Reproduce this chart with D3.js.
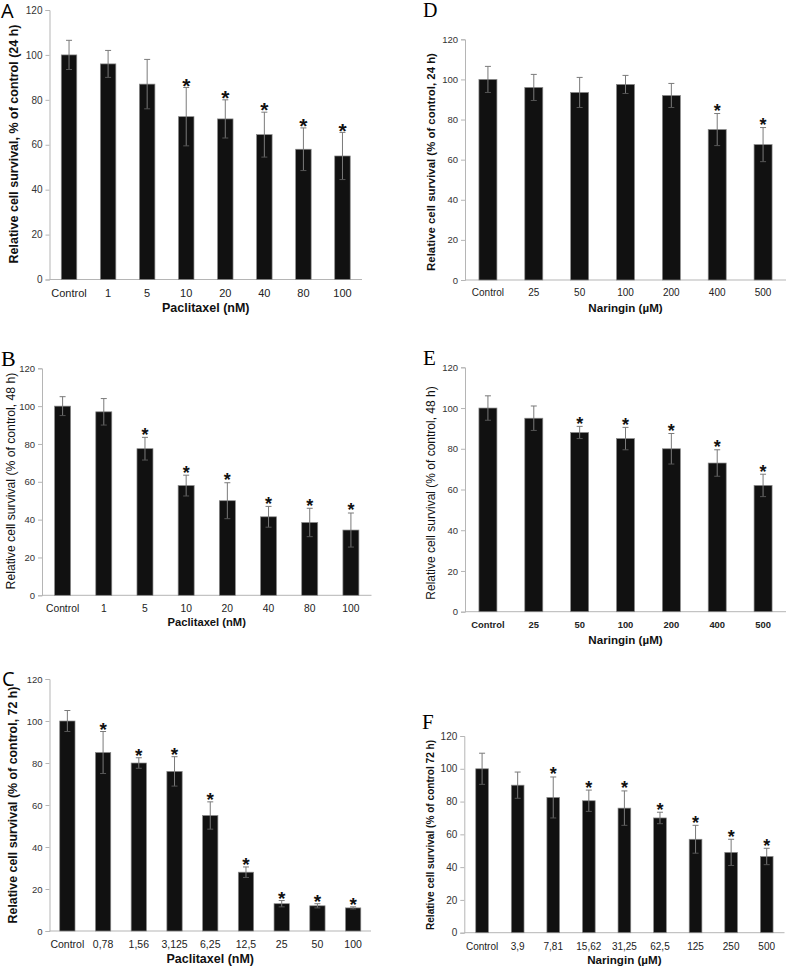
<!DOCTYPE html>
<html>
<head>
<meta charset="utf-8">
<script src="https://cdn.jsdelivr.net/npm/d3@7"></script>
<style>
  body { margin: 0; background: #fff; }
  svg { display: block; }
</style>
</head>
<body>
<div id="chart"></div>
<script>
// Panel data
const catsPac = ["Control", "1", "5", "10", "20", "40", "80", "100"];
const catsNar = ["Control", "25", "50", "100", "200", "400", "500"];
const catsC = ["Control", "0,78", "1,56", "3,125", "6,25", "12,5", "25", "50", "100"];
const catsF = ["Control", "3,9", "7,81", "15,62", "31,25", "62,5", "125", "250", "500"];
const yTicks = [0, 20, 40, 60, 80, 100, 120];

const meanA = [100, 96, 87, 72.5, 71.5, 64.5, 58, 55];
const errA = [6.5, 6, 11, 13, 8.5, 10, 9.5, 10.5];
const sigA = [0, 0, 0, 1, 1, 1, 1, 1];

const meanB = [100, 97, 77.5, 58, 50, 41.5, 38.5, 34.5];
const errB = [5, 7, 6, 5.5, 9.5, 5.5, 7.5, 9];
const sigB = [0, 0, 1, 1, 1, 1, 1, 1];

const meanC = [100, 85, 80, 76, 55, 28, 13, 12, 11];
const errC = [5, 10, 2.5, 7, 6.5, 2.5, 1.5, 1, 0.5];
const sigC = [0, 1, 1, 1, 1, 1, 1, 1, 1];

const meanD = [100, 96, 93.5, 97.5, 92, 75, 67.5];
const errD = [6.5, 6.5, 7.5, 4.5, 6, 8, 8.5];
const sigD = [0, 0, 0, 0, 0, 1, 1];

const meanE = [100, 95, 88, 85, 80, 73, 62];
const errE = [6, 6, 3, 5.5, 7.5, 6.5, 5.5];
const sigE = [0, 0, 1, 1, 1, 1, 1];

const meanF = [100, 90, 82.5, 80.5, 76, 70, 57, 49, 46.5];
const errF = [9.5, 8, 12.5, 6.5, 10.5, 3.5, 8.5, 8, 5];
const sigF = [0, 0, 1, 1, 1, 1, 1, 1, 1];

const SANS = "'Liberation Sans', Arial, sans-serif";
const SERIF = "'Liberation Serif', 'Times New Roman', serif";
const OPEN = "'Open Sans', sans-serif";

// layout for each panel
const panels = [
    { letter: "A", letterFont: OPEN, letterSize: 20, lx: 1, ly: 18,
      cats: catsPac, mean: meanA, err: errA, sig: sigA,
      x0: 49.5, x1: 362, yTop: 10, yBot: 279.5, barW: 15.5,
      tickSize: 11, tickWeight: "normal", tickY: 297, yTickSize: 10,
      title: "Paclitaxel (nM)", titleSize: 12.5, titleWeight: "bold", titleY: 312,
      ylab: "Relative cell survival, % of control (24 h)", ylabSize: 12.5, ylabWeight: "bold", ylabX: 18, ylabY: 144,
      starSize: 21 },
    { letter: "D", letterFont: SERIF, letterSize: 20, lx: 423, ly: 17,
      cats: catsNar, mean: meanD, err: errD, sig: sigD,
      x0: 465, x1: 786, yTop: 39.3, yBot: 280, barW: 18,
      tickSize: 10, tickWeight: "normal", tickY: 296, yTickSize: 9.5,
      title: "Naringin (µM)", titleSize: 11.6, titleWeight: "bold", titleY: 312,
      ylab: "Relative cell survival (% of control, 24 h)", ylabSize: 11.4, ylabWeight: "bold", ylabX: 435, ylabY: 162,
      starSize: 18 },
    { letter: "B", letterFont: SERIF, letterSize: 22, lx: 1, ly: 366,
      cats: catsPac, mean: meanB, err: errB, sig: sigB,
      x0: 42, x1: 371.5, yTop: 368.3, yBot: 595.3, barW: 16,
      tickSize: 10.3, tickWeight: "normal", tickY: 612, yTickSize: 9.5,
      title: "Paclitaxel (nM)", titleSize: 11.2, titleWeight: "bold", titleY: 626,
      ylab: "Relative cell survival (% of control, 48 h)", ylabSize: 12.2, ylabWeight: "normal", ylabX: 15, ylabY: 481,
      starSize: 18 },
    { letter: "E", letterFont: SERIF, letterSize: 21, lx: 423, ly: 365,
      cats: catsNar, mean: meanE, err: errE, sig: sigE,
      x0: 465, x1: 786, yTop: 367.3, yBot: 611.7, barW: 18,
      tickSize: 9.4, tickWeight: "bold", tickY: 628, yTickSize: 9.5,
      title: "Naringin (µM)", titleSize: 11.6, titleWeight: "bold", titleY: 644,
      ylab: "Relative cell survival  (% of control, 48 h)", ylabSize: 12, ylabWeight: "normal", ylabX: 435, ylabY: 493,
      starSize: 18 },
    { letter: "C", letterFont: OPEN, letterSize: 20, lx: 2, ly: 686,
      cats: catsC, mean: meanC, err: errC, sig: sigC,
      x0: 49.5, x1: 371, yTop: 679, yBot: 931, barW: 15.3,
      tickSize: 10.5, tickWeight: "normal", tickY: 948, yTickSize: 9.5,
      title: "Paclitaxel (nM)", titleSize: 12.5, titleWeight: "bold", titleY: 963,
      ylab: "Relative cell survival (% of control, 72 h)", ylabSize: 12.4, ylabWeight: "bold", ylabX: 17, ylabY: 805,
      starSize: 19 },
    { letter: "F", letterFont: SERIF, letterSize: 21, lx: 422, ly: 729,
      cats: catsF, mean: meanF, err: errF, sig: sigF,
      x0: 464.3, x1: 784.5, yTop: 736, yBot: 932.7, barW: 12.7,
      tickSize: 10, tickWeight: "normal", tickY: 950, yTickSize: 10,
      title: "Naringin (µM)", titleSize: 11.6, titleWeight: "bold", titleY: 964,
      ylab: "Relative cell survival (% of control 72 h)", ylabSize: 10.1, ylabWeight: "bold", ylabX: 434, ylabY: 835,
      starSize: 18 }
];

const svg = d3.select("#chart")
    .append("svg")
    .attr("width", 787)
    .attr("height", 968);

function drawPanel(p) {
    const g = svg.append("g");

    const x = d3.scaleBand()
        .domain(p.cats)
        .range([p.x0, p.x1]);

    const y = d3.scaleLinear()
        .domain([0, 120])
        .range([p.yBot, p.yTop]);

    const rows = p.cats.map((c, i) => ({ cat: c, mean: p.mean[i], err: p.err[i], sig: p.sig[i] }));

    // y axis with outward ticks
    const yAxis = d3.axisLeft(y).tickValues(yTicks).tickSize(4).tickPadding(3);
    const ya = g.append("g")
        .attr("transform", `translate(${p.x0},0)`)
        .call(yAxis);
    ya.select(".domain").attr("stroke", "#b5b5b5");
    ya.selectAll(".tick line").attr("stroke", "#b5b5b5");
    ya.selectAll(".tick text")
        .attr("font-family", SANS)
        .attr("font-size", p.yTickSize)
        .attr("fill", "#333");

    // x axis baseline
    g.append("line")
        .attr("x1", p.x0).attr("x2", p.x1)
        .attr("y1", y(0)).attr("y2", y(0))
        .attr("stroke", "#b5b5b5");

    // bars
    g.selectAll("rect.bar")
        .data(rows)
        .enter().append("rect")
        .attr("class", "bar")
        .attr("x", d => x(d.cat) + (x.bandwidth() - p.barW) / 2)
        .attr("width", p.barW)
        .attr("y", d => y(d.mean))
        .attr("height", d => y(0) - y(d.mean))
        .attr("fill", "#111")
        .attr("stroke", "#8a8a8a")
        .attr("stroke-width", 0.7);

    // error bars
    const cx = d => x(d.cat) + x.bandwidth() / 2;
    const eb = g.selectAll("g.err")
        .data(rows)
        .enter().append("g");
    eb.append("line")
        .attr("x1", cx).attr("x2", cx)
        .attr("y1", d => y(d.mean + d.err))
        .attr("y2", d => y(d.mean - d.err))
        .attr("stroke", "#7a7a7a")
        .attr("stroke-width", 1);
    eb.append("line")
        .attr("x1", d => cx(d) - 3).attr("x2", d => cx(d) + 3)
        .attr("y1", d => y(d.mean + d.err))
        .attr("y2", d => y(d.mean + d.err))
        .attr("stroke", "#7a7a7a")
        .attr("stroke-width", 1);
    eb.append("line")
        .attr("x1", d => cx(d) - 3).attr("x2", d => cx(d) + 3)
        .attr("y1", d => y(d.mean - d.err))
        .attr("y2", d => y(d.mean - d.err))
        .attr("stroke", "#555")
        .attr("stroke-width", 1);

    // significance stars
    g.selectAll("text.star")
        .data(rows.filter(d => d.sig))
        .enter().append("text")
        .attr("x", cx)
        .attr("y", d => y(d.mean + d.err) + 0.58 * p.starSize - 7)
        .attr("text-anchor", "middle")
        .attr("font-family", SANS)
        .attr("font-weight", "bold")
        .attr("font-size", p.starSize)
        .attr("fill", "#111")
        .text("*");

    // category labels
    g.selectAll("text.cat")
        .data(rows)
        .enter().append("text")
        .attr("x", cx)
        .attr("y", p.tickY)
        .attr("text-anchor", "middle")
        .attr("font-family", SANS)
        .attr("font-size", p.tickSize)
        .attr("font-weight", p.tickWeight)
        .attr("fill", "#222")
        .text(d => d.cat);

    // x title
    g.append("text")
        .attr("x", (p.x0 + p.x1) / 2)
        .attr("y", p.titleY)
        .attr("text-anchor", "middle")
        .attr("font-family", SANS)
        .attr("font-size", p.titleSize)
        .attr("font-weight", p.titleWeight)
        .attr("fill", "#111")
        .text(p.title);

    // y title
    g.append("text")
        .attr("transform", `translate(${p.ylabX},${p.ylabY}) rotate(-90)`)
        .attr("text-anchor", "middle")
        .attr("font-family", SANS)
        .attr("font-size", p.ylabSize)
        .attr("font-weight", p.ylabWeight)
        .attr("fill", "#111")
        .text(p.ylab);

    // panel letter
    g.append("text")
        .attr("x", p.lx)
        .attr("y", p.ly)
        .attr("font-family", p.letterFont)
        .attr("font-size", p.letterSize)
        .attr("fill", "#000")
        .text(p.letter);
}

panels.forEach(drawPanel);
</script>
</body>
</html>
